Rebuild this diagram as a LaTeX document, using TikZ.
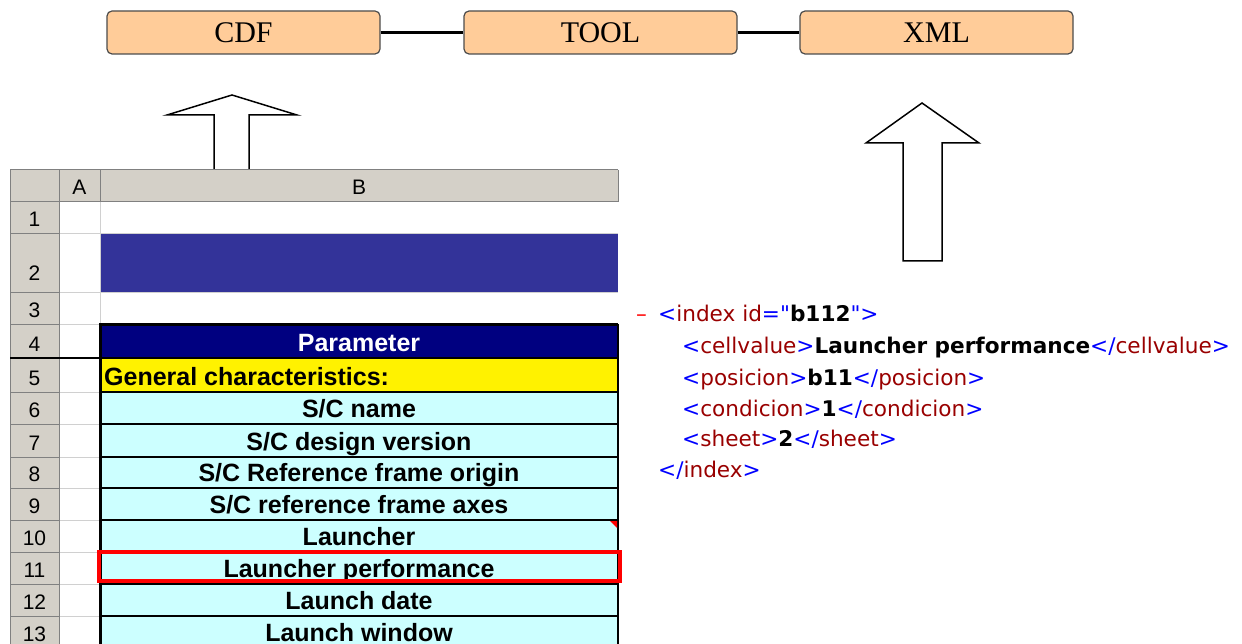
\documentclass[tikz,border=0pt]{standalone}
\usepackage{fontspec}
\setmainfont{Liberation Serif}
\newfontfamily\xlsfont{Liberation Sans}
\newfontfamily\xmlfont{DejaVu Sans}
\definecolor{boxfill}{HTML}{FFCC99}
\definecolor{hdrgray}{HTML}{D4D0C8}
\definecolor{rowblue}{HTML}{333399}
\definecolor{navyc}{HTML}{000080}
\definecolor{lcyan}{HTML}{CCFFFF}
\definecolor{xred}{HTML}{990000}
\definecolor{xblue}{HTML}{0000FF}
\definecolor{darkgrid}{HTML}{808080}
\definecolor{lightgrid}{HTML}{D0D0D0}
\newcommand\xb[1]{\textcolor{xblue}{#1}}
\newcommand\xr[1]{\textcolor{xred}{#1}}
\tikzset{
  topbox/.style={draw=black!70, line width=1.2pt, fill=boxfill, rounded corners=5pt,
    minimum width=273pt, minimum height=43pt, inner sep=0pt,
    font=\fontsize{30}{30}\selectfont},
  link/.style={line width=3pt, black},
  bigarrow/.style={draw=black, line width=1.5pt, fill=white, line join=miter},
  rownum/.style={anchor=base, inner sep=0pt, font=\xlsfont\fontsize{21}{21}\selectfont},
  cellb/.style={anchor=base, inner sep=0pt, font=\xlsfont\bfseries\fontsize{25}{25}\selectfont},
  xmlline/.style={anchor=base west, inner sep=0pt, font=\xmlfont\fontsize{21.6}{21.6}\selectfont},
  hgrid/.style={darkgrid, line width=1pt},
  lgrid/.style={lightgrid, line width=1pt},
  tline/.style={black, line width=1.2pt}
}
\begin{document}
\begin{tikzpicture}[x=1pt,y=-1pt]
\useasboundingbox (0,0) rectangle (1242,644);
% top flow
\node[topbox] (cdf) at (243.5,32.5) {CDF};
\node[topbox] (tool) at (600.5,32.5) {TOOL};
\node[topbox] (xml) at (936.5,32.5) {XML};
\draw[link] (cdf.east) -- (tool.west);
\draw[link] (tool.east) -- (xml.west);
% hollow arrows
\draw[bigarrow] (232,95) -- (297,115) -- (249,115) -- (249,170) -- (214,170) -- (214,115) -- (167,115) -- cycle;
\draw[bigarrow] (922,103) -- (979,143) -- (942,143) -- (942,261) -- (903,261) -- (903,143) -- (866,143) -- cycle;
% spreadsheet backgrounds
\fill[hdrgray] (10,170) rectangle (618,202);
\fill[hdrgray] (10,202) rectangle (59,648);
\fill[rowblue] (100,234) rectangle (618,293);
\fill[navyc] (100,324) rectangle (618,358);
\fill[yellow] (100,358) rectangle (618,392);
\fill[lcyan] (100,392) rectangle (618,648);
% light grid in column A and rows 1-3
\foreach \y in {234,293,324,358,392,424,457,488,520,552,584,616}{
  \draw[lgrid] (59,\y) -- (100,\y);
}
\draw[lgrid] (100,202) -- (100,324);
\draw[lgrid] (100,234) -- (618,234);
\draw[lgrid] (100,293) -- (618,293);
% row header grid
\foreach \y in {234,293,324,392,424,457,488,520,552,584,616}{
  \draw[hgrid] (10,\y) -- (59,\y);
}
\draw[hgrid] (10,170) -- (618,170);
\draw[hgrid] (10,202) -- (618,202);
\draw[hgrid] (10,170) -- (10,648);
\draw[hgrid] (59,170) -- (59,648);
\draw[hgrid] (100,170) -- (100,202);
\draw[hgrid] (618,170) -- (618,202);
\draw[black, line width=1.5pt] (10,358) -- (100,358);
% column / row labels
\node[rownum] (colA) at (79.5,195) {A};
\node[rownum] (colB) at (359,195) {B};
\foreach \n/\yb in {1/227,2/281,3/317,4/351,5/385,6/417,7/450,8/481,9/513,10/545,11/577,12/609,13/641}{
  \node[rownum] (rn\n) at (34.5,\yb) {\n};
}
% table lines
\foreach \y in {358,392,424,457,488,520,552,584,616}{
  \draw[tline] (100,\y) -- (618,\y);
}
\draw[black, line width=3pt] (100,648) -- (100,324) -- (618,324);
\draw[black, line width=2pt] (618,324) -- (618,648);
% cell texts
\node[cellb, text=white] (c4) at (359,351) {Parameter};
\node[cellb, anchor=base west] (c5) at (104,385) {General characteristics:};
\node[cellb] (c6) at (359,417) {S/C name};
\node[cellb] (c7) at (359,450) {S/C design version};
\node[cellb] (c8) at (359,481) {S/C Reference frame origin};
\node[cellb] (c9) at (359,513) {S/C reference frame axes};
\node[cellb] (c10) at (359,545) {Launcher};
\node[cellb] (c11) at (359,577) {Launcher performance};
\node[cellb] (c12) at (359,609) {Launch date};
\node[cellb] (c13) at (359,641) {Launch window};
% comment marker
\fill[red] (610,521) -- (617,521) -- (617,528) -- cycle;
% highlight
\draw[red, line width=4pt] (99,552) rectangle (620,581);
% XML text
\node[xmlline, text=red] (xminus) at (636,321) {–};
\node[xmlline] (x1) at (658,321) {\xb{<}\xr{index id}\xb{="}\textbf{b112}\xb{">}};
\node[xmlline] (x2) at (682,353) {\xb{<}\xr{cellvalue}\xb{>}\textbf{Launcher performance}\xb{</}\xr{cellvalue}\xb{>}};
\node[xmlline] (x3) at (682,385) {\xb{<}\xr{posicion}\xb{>}\textbf{b11}\xb{</}\xr{posicion}\xb{>}};
\node[xmlline] (x4) at (682,416) {\xb{<}\xr{condicion}\xb{>}\textbf{1}\xb{</}\xr{condicion}\xb{>}};
\node[xmlline] (x5) at (682,446) {\xb{<}\xr{sheet}\xb{>}\textbf{2}\xb{</}\xr{sheet}\xb{>}};
\node[xmlline] (x6) at (658,477) {\xb{</}\xr{index}\xb{>}};
\end{tikzpicture}
\end{document}
